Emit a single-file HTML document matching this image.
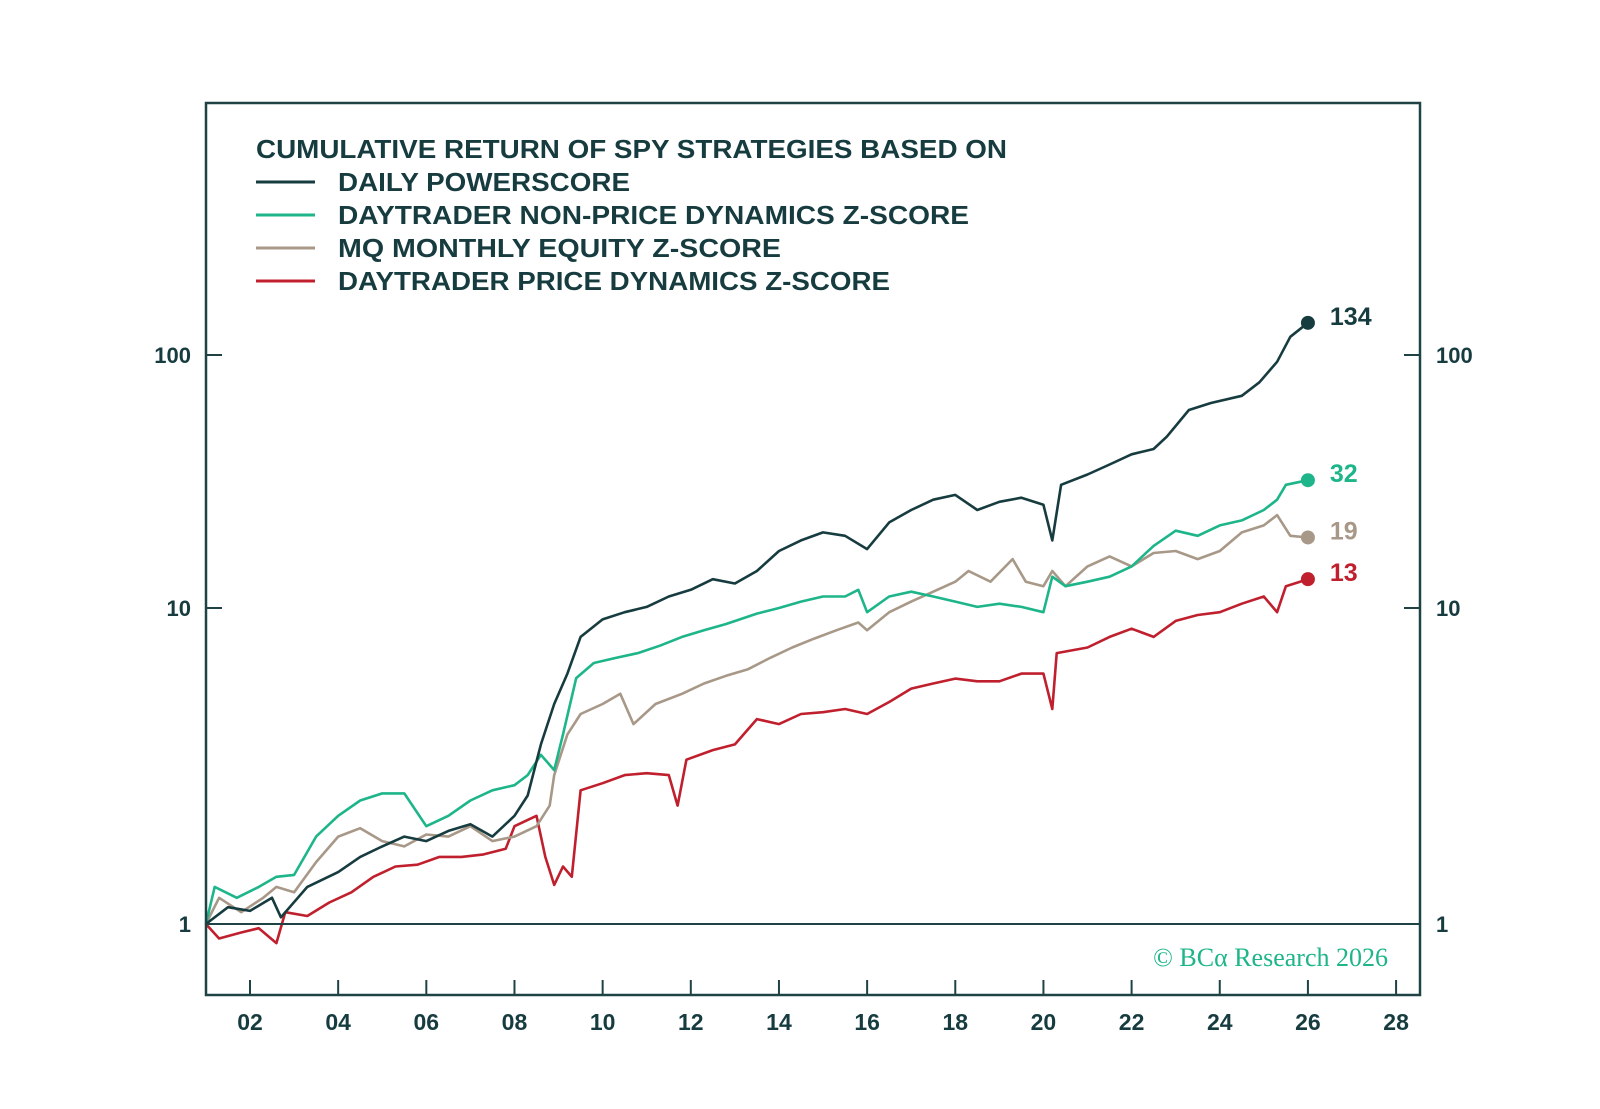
<!DOCTYPE html>
<html><head><meta charset="utf-8">
<style>
html,body{margin:0;padding:0;background:#fff;}
svg{display:block;font-family:"Liberation Sans",sans-serif;}
</style></head>
<body>
<svg id="chart" width="1600" height="1109" viewBox="0 0 1600 1109">
  <rect x="0" y="0" width="1600" height="1109" fill="#fff"/>
  <g id="series"></g>
  <rect x="206" y="103" width="1214" height="892" fill="none" stroke="#1f4345" stroke-width="2.5"/>
  <g id="axes"></g>
  <g fill="#173c3f" font-size="26" font-weight="bold">
    <text x="256" y="158" textLength="751" lengthAdjust="spacingAndGlyphs">CUMULATIVE RETURN OF SPY STRATEGIES BASED ON</text>
    <line x1="256" y1="182" x2="315" y2="182" stroke="#173c3f" stroke-width="3"/>
    <text x="338" y="191" textLength="292" lengthAdjust="spacingAndGlyphs">DAILY POWERSCORE</text>
    <line x1="256" y1="215" x2="315" y2="215" stroke="#1db589" stroke-width="3"/>
    <text x="338" y="224" textLength="631" lengthAdjust="spacingAndGlyphs">DAYTRADER NON-PRICE DYNAMICS Z-SCORE</text>
    <line x1="256" y1="248" x2="315" y2="248" stroke="#a89888" stroke-width="3"/>
    <text x="338" y="257" textLength="443" lengthAdjust="spacingAndGlyphs">MQ MONTHLY EQUITY Z-SCORE</text>
    <line x1="256" y1="281" x2="315" y2="281" stroke="#c0202e" stroke-width="3"/>
    <text x="338" y="290" textLength="552" lengthAdjust="spacingAndGlyphs">DAYTRADER PRICE DYNAMICS Z-SCORE</text>
  </g>
  <text x="1388" y="966" text-anchor="end" font-family="'Liberation Serif',serif" font-size="26" fill="#1db589">© BCα Research 2026</text>
  <g id="endlabels"></g>
</svg>
<script>
const years = [2001,2001.5,2002,2002.5,2002.7,2003.3,2004,2004.5,2005,2005.5,2006,2006.5,2007,2007.5,2008,2008.3,2008.6,2008.9,2009.2,2009.5,2010,2010.5,2011,2011.5,2012,2012.5,2013,2013.5,2014,2014.5,2015,2015.5,2016,2016.5,2017,2017.5,2018,2018.5,2019,2019.5,2020,2020.2,2020.4,2021,2021.5,2022,2022.5,2022.8,2023.3,2023.8,2024.5,2024.9,2025.3,2025.6,2026];
const powerscore = [1,1.13,1.10,1.21,1.05,1.31,1.46,1.63,1.76,1.89,1.83,1.97,2.07,1.89,2.20,2.55,3.70,4.97,6.2,8.1,9.2,9.7,10.1,11.1,11.8,13.0,12.5,14.0,16.8,18.5,19.9,19.3,17.1,21.8,24.4,26.8,28.0,24.4,26.3,27.3,25.6,18.5,30.7,33.7,36.9,40.5,42.5,47.6,60.6,64.6,69,78,94,118,134];

const yearsNonPrice = [2001,2001.2,2001.7,2002.2,2002.6,2003,2003.5,2004,2004.5,2005,2005.5,2006,2006.5,2007,2007.5,2008,2008.3,2008.6,2008.9,2009.1,2009.4,2009.8,2010.3,2010.8,2011.3,2011.8,2012.3,2012.8,2013.5,2014,2014.5,2015,2015.5,2015.8,2016,2016.5,2017,2017.5,2018,2018.5,2019,2019.5,2020,2020.2,2020.5,2021,2021.5,2022,2022.5,2023,2023.5,2024,2024.5,2025,2025.3,2025.5,2026];
const nonPrice = [1,1.31,1.21,1.31,1.41,1.43,1.89,2.20,2.46,2.59,2.59,2.04,2.20,2.46,2.65,2.75,2.96,3.43,3.07,3.98,6.0,6.7,6.95,7.2,7.6,8.1,8.5,8.9,9.6,10.0,10.6,11.1,11.1,11.8,9.7,11.1,11.6,11.1,10.6,10.1,10.4,10.1,9.7,13.3,12.2,12.7,13.3,14.6,17.6,20.2,19.3,21.2,22.2,24.4,26.8,30.7,32];

const yearsMq = [2001,2001.3,2001.8,2002.3,2002.6,2003,2003.5,2004,2004.5,2005,2005.5,2006,2006.5,2007,2007.5,2008,2008.5,2008.8,2008.9,2009.2,2009.5,2010,2010.4,2010.7,2011.2,2011.8,2012.3,2012.8,2013.3,2013.8,2014.3,2014.8,2015.3,2015.8,2016,2016.5,2017,2017.5,2018,2018.3,2018.8,2019.3,2019.6,2020,2020.2,2020.5,2021,2021.5,2022,2022.5,2023,2023.5,2024,2024.5,2025,2025.3,2025.6,2026];
const mqEquity = [1,1.21,1.09,1.21,1.31,1.26,1.57,1.89,2.01,1.83,1.76,1.92,1.89,2.04,1.83,1.89,2.04,2.37,2.96,3.98,4.62,4.97,5.35,4.29,4.97,5.35,5.77,6.1,6.4,6.95,7.5,8.0,8.5,9.0,8.5,9.7,10.6,11.6,12.7,14.0,12.7,15.6,12.7,12.2,14.0,12.2,14.6,16.0,14.6,16.5,16.8,15.6,16.8,19.9,21.2,23.3,19.3,19];

const yearsPrice = [2001,2001.3,2001.8,2002.2,2002.6,2002.8,2003.3,2003.8,2004.3,2004.8,2005.3,2005.8,2006.3,2006.8,2007.3,2007.8,2008,2008.5,2008.7,2008.9,2009.1,2009.3,2009.5,2010,2010.5,2011,2011.5,2011.7,2011.9,2012.5,2013,2013.5,2014,2014.5,2015,2015.5,2016,2016.5,2017,2017.5,2018,2018.5,2019,2019.5,2020,2020.2,2020.3,2021,2021.5,2022,2022.5,2023,2023.5,2024,2024.5,2025,2025.3,2025.5,2026];
const priceDyn = [1,0.90,0.94,0.97,0.87,1.09,1.06,1.17,1.26,1.41,1.52,1.54,1.63,1.63,1.66,1.73,2.04,2.20,1.63,1.33,1.52,1.41,2.65,2.79,2.96,3.0,2.96,2.37,3.31,3.55,3.70,4.45,4.29,4.62,4.68,4.79,4.62,5.04,5.56,5.77,5.98,5.86,5.86,6.2,6.2,4.79,7.2,7.5,8.1,8.6,8.1,9.1,9.5,9.7,10.4,11.1,9.7,12.2,13];

const xTicks = [2002,2004,2006,2008,2010,2012,2014,2016,2018,2020,2022,2024,2026,2028];
const xTickLabels = ["02","04","06","08","10","12","14","16","18","20","22","24","26","28"];
const yTicks = [1,10,100];
const yTickLabels = ["1","10","100"];

const NS = "http://www.w3.org/2000/svg";
function xScale(yr){ return 250 + (yr - 2002) * 44.08; }
function yScale(v){
  const l = Math.log10(v);
  if (l >= 1) return 608 - (l - 1) * 253;
  return 924 - l * 316;
}
function mk(tag, attrs, parent){
  const e = document.createElementNS(NS, tag);
  for (const k in attrs) e.setAttribute(k, attrs[k]);
  parent.appendChild(e);
  return e;
}
const axes = document.getElementById('axes');
// x ticks
xTicks.forEach((t, i) => {
  const x = xScale(t);
  const tk = mk('line', {x1:x, y1:995, x2:x, y2:980, stroke:'#1f4345', 'stroke-width':2}, axes);
  
  
  const lb = mk('text', {x:x, y:1030, 'text-anchor':'middle', 'font-size':23, 'font-weight':'bold', fill:'#173c3f'}, axes);
  lb.textContent = xTickLabels[i];
  
  
});
// y ticks
yTicks.forEach((t, i) => {
  const y = yScale(t);
  if (t === 1) {
    const bl = mk('line', {x1:206, y1:y, x2:1420, y2:y, stroke:'#1f4345', 'stroke-width':2}, axes);
    
    
  } else {
    const tl = mk('line', {x1:206, y1:y, x2:222, y2:y, stroke:'#1f4345', 'stroke-width':2}, axes);
    
    
    const tr = mk('line', {x1:1404, y1:y, x2:1420, y2:y, stroke:'#1f4345', 'stroke-width':2}, axes);
    
    
  }
  const ll = mk('text', {x:191, y:y+8, 'text-anchor':'end', 'font-size':22, 'font-weight':'bold', fill:'#173c3f'}, axes);
  ll.textContent = yTickLabels[i];
  
  
  const rl = mk('text', {x:1436, y:y+8, 'text-anchor':'start', 'font-size':22, 'font-weight':'bold', fill:'#173c3f'}, axes);
  rl.textContent = yTickLabels[i];
  
  
});
// series
const seriesG = document.getElementById('series');
const labelsG = document.getElementById('endlabels');
const seriesDefs = [
  {xs: years, vs: powerscore, color: '#173c3f', name: 'powerscore'},
  {xs: yearsNonPrice, vs: nonPrice, color: '#1db589', name: 'nonprice'},
  {xs: yearsMq, vs: mqEquity, color: '#a89888', name: 'mq-equity'},
  {xs: yearsPrice, vs: priceDyn, color: '#c0202e', name: 'price-dynamics'}
];
seriesDefs.slice().reverse().forEach(s => {
  const d = s.xs.map((yr, i) => (i ? 'L' : 'M') + xScale(yr).toFixed(1) + ',' + yScale(s.vs[i]).toFixed(1)).join(' ');
  const p = mk('path', {d: d, fill: 'none', stroke: s.color, 'stroke-width': 2.6, 'stroke-linejoin': 'round'}, seriesG);
  
  
  const lx = xScale(s.xs[s.xs.length - 1]);
  const lastV = s.vs[s.vs.length - 1];
  const ly = yScale(lastV);
  const c = mk('circle', {cx: lx, cy: ly, r: 7, fill: s.color}, seriesG);
  
  
  const t = mk('text', {x: lx + 22, y: ly + 2, 'font-size': 25, 'font-weight': 'bold', fill: s.color}, labelsG);
  t.textContent = String(Math.round(lastV));
  
  
});
</script>
</body></html>
